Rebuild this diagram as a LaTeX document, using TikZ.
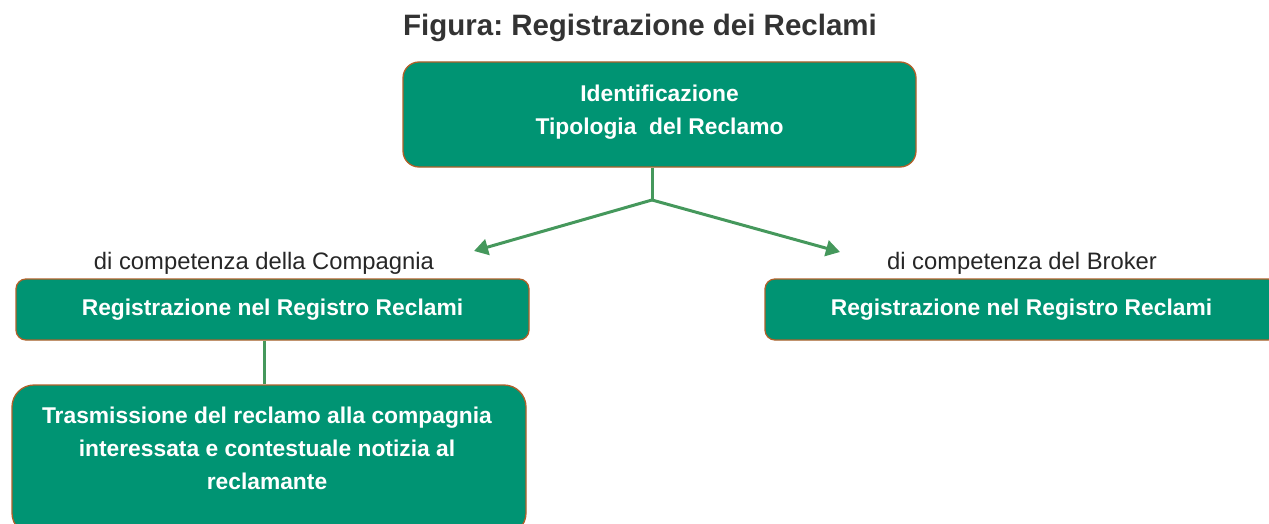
\documentclass[tikz,border=0pt]{standalone}
\usepackage{fontspec}
\setmainfont{Liberation Sans}
\usetikzlibrary{arrows.meta}
\frenchspacing
\definecolor{boxfill}{HTML}{009473}
\definecolor{boxline}{HTML}{B0602A}
\definecolor{conn}{HTML}{45985C}
\definecolor{titlec}{HTML}{333333}
\tikzset{
  x=1pt, y=-1pt,
  gbox/.style={draw=boxline, line width=1.3pt, fill=boxfill, rounded corners=#1, inner sep=0pt},
  gbox/.default=12pt,
  btext/.style={text=white, font=\fontsize{22.8}{33}\selectfont\bfseries, align=center, inner sep=0pt},
  lbl/.style={text=black!85, font=\fontsize{23.8}{26}\selectfont, inner sep=0pt},
  conn/.style={draw=conn, line width=3pt},
  arr/.style={conn, -{Triangle[length=14pt, width=16pt]}}
}
\begin{document}
\begin{tikzpicture}
\useasboundingbox (0,0) rectangle (1269,524);
\clip (0,0) rectangle (1269,524);
\node[text=titlec, font=\fontsize{29.5}{32}\selectfont\bfseries, inner sep=0pt] (title) at (640,28) {Figura: Registrazione dei Reclami};

\node[gbox=16pt, minimum width=513pt, minimum height=105pt] (top) at (659.5,114.5) {};
\node[btext] (toptext) at (659.5,112) {Identificazione\\Tipologia\ \ del Reclamo};

\node[lbl] (lblL) at (264,263) {di competenza della Compagnia};
\node[lbl] (lblR) at (1022,263) {di competenza del Broker};

\node[gbox=10pt, minimum width=513pt, minimum height=61pt, btext] (left) at (272.5,309.5) {Registrazione nel Registro Reclami};
\node[gbox=10pt, minimum width=513pt, minimum height=61pt, btext] (right) at (1021.5,309.5) {Registrazione nel Registro Reclami};

\node[gbox=22pt, minimum width=514pt, minimum height=150pt] (bot) at (269,460) {};
\node[btext] (bottext) at (267,448) {Trasmissione del reclamo alla compagnia\\interessata e contestuale notizia al\\reclamante};

\coordinate (fork) at (652,200);
\draw[conn] (top.south -| fork) -- (fork);
\coordinate (endL) at (474,251);
\coordinate (endR) at (840,252);
\draw[arr] (fork) -- (endL);
\draw[arr] (fork) -- (endR);
\draw[conn] (left.south -| 264,0) -- (bot.north -| 264,0);
\end{tikzpicture}
\end{document}
